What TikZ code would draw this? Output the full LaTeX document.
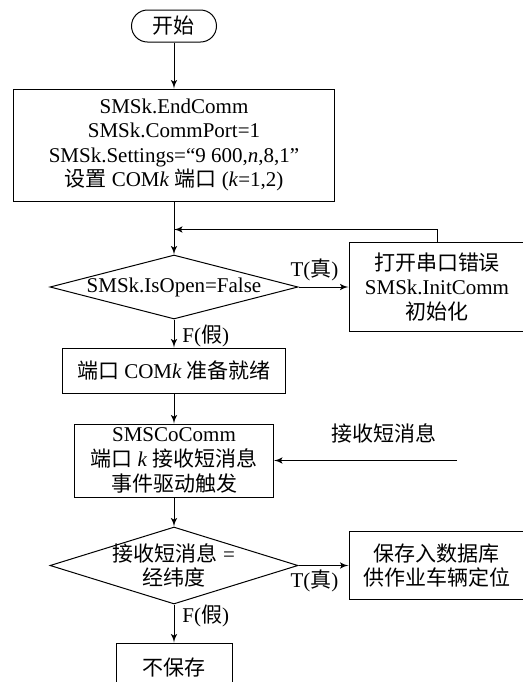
\documentclass[tikz,border=0pt]{standalone}
\usepackage{fontspec}
\setmainfont{Liberation Serif}
\newfontfamily\cjk{Noto Sans CJK SC}
\newcommand{\zh}[1]{{\cjk #1}}
\usetikzlibrary{%
  shapes,arrows,positioning,shapes.geometric}
\tikzstyle{line} = [draw, -latex', line width=.5pt, fill=none]

\begin{document}
\begin{tikzpicture}[
    x=1pt, y=1pt,
    line width=.5pt,
    font=\fontsize{10.5}{12.3}\selectfont,
    terminal/.style={
      draw,
      rounded corners=8pt,
      minimum width=42.5pt,
      minimum height=16pt,
      inner sep=0pt
    },
    process/.style={
      draw,
      fill=white,
      align=center,
      inner sep=0pt
    },
    decision/.style={
      draw,
      diamond,
      aspect=3.6,
      fill=white,
      align=center,
      inner sep=-4pt
    },
    branch/.style={
      inner sep=1pt
    }
  ]

  \useasboundingbox (0,0) rectangle (261.5,-341);
  \clip (0,0) rectangle (261.5,-341);

  \node[terminal] (start) at (87,-13) {\zh{开始}};

  \node[process,below=23pt of start,minimum width=160.5pt,minimum height=56pt] (init)
    {SMSk.EndComm\\SMSk.CommPort=1\\SMSk.Settings=“9 600,\textit{n},8,1”\\
     \zh{设置} COM\textit{k} \zh{端口} (\textit{k}=1,2)};

  \node[decision,below=26.5pt of init,minimum width=124pt,minimum height=32pt] (isopen)
    {SMSk.IsOpen=False};
  \node[process,right=25pt of isopen,minimum width=88pt,minimum height=44.5pt] (err)
    {\zh{打开串口错误}\\SMSk.InitComm\\\zh{初始化}};

  \node[process,below=14pt of isopen,minimum width=111.5pt,minimum height=22.5pt] (ready)
    {\zh{端口} COM\textit{k} \zh{准备就绪}};

  \node[process,below=15pt of ready,minimum width=99.5pt,minimum height=36.5pt] (sms)
    {SMSCoComm\\\zh{端口} \textit{k} \zh{接收短消息}\\\zh{事件驱动触发}};

  \node[decision,below=14.5pt of sms,minimum width=124pt,minimum height=38.5pt] (islonlat)
    {\zh{接收短消息} =\\\zh{经纬度}};
  \node[process,right=25pt of islonlat,minimum width=88pt,minimum height=34pt] (save)
    {\zh{保存入数据库}\\\zh{供作业车辆定位}};

  \node[process,below=19pt of islonlat,minimum width=58pt,minimum height=25pt] (nosave)
    {\zh{不保存}};

  \coordinate[below=14pt of init.south] (loopin);
  \coordinate[right=91.5pt of sms.east] (smssrc);

  \draw[line] (start) -- (init);
  \draw[line] (init) -- (isopen);
  \draw[line] (isopen) -- node[branch,above=2pt,pos=.32] (t1) {T(\zh{真})} (err);
  \draw[line] (err.north) |- (loopin);
  \draw[line] (isopen) -- node[branch,right=3pt,pos=.6] (f1) {F(\zh{假})} (ready);
  \draw[line] (ready) -- (sms);

  \draw[line] (smssrc) -- node[above=5pt,pos=.4] (smsmsg) {\zh{接收短消息}} (sms);
  \draw[line] (sms) -- (islonlat);
  \draw[line] (islonlat) -- node[branch,below=1pt,pos=.32] (t2) {T(\zh{真})} (save);
  \draw[line] (islonlat) -- node[branch,right=3pt,pos=.3] (f2) {F(\zh{假})} (nosave);

\end{tikzpicture}
\end{document}
